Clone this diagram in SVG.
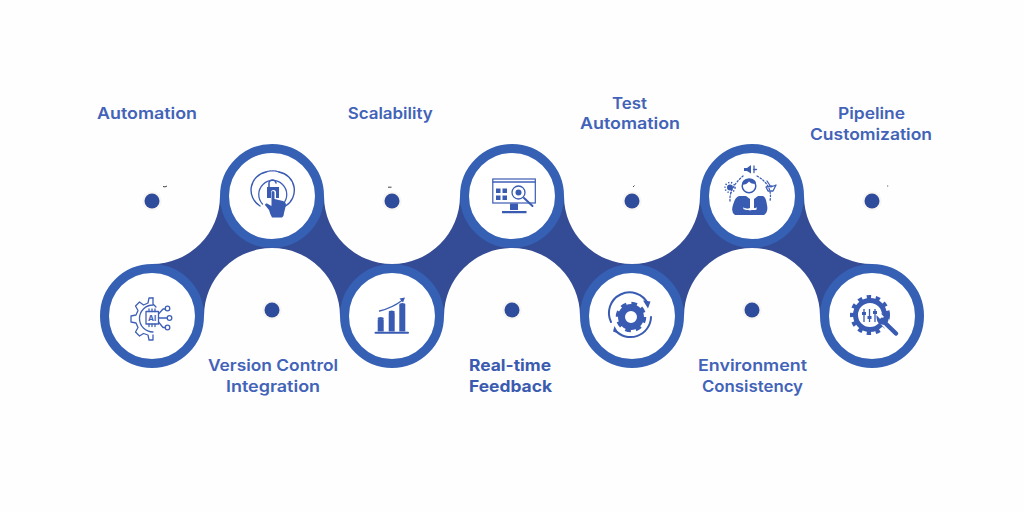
<svg xmlns="http://www.w3.org/2000/svg" width="1024" height="512" viewBox="0 0 1024 512">
<style>
.band{fill:#344b95}
.ring{fill:#fff;stroke:#3560b4;stroke-width:9}
.halo{fill:#f8f5f0}
.dot{fill:#2f4c9c}
.lbl{font-family:"Inter","Liberation Sans",sans-serif;font-size:16px;font-weight:600;fill:#4263b8;text-anchor:middle}
.b{font-weight:700;fill:#3b5bb0}
.s{fill:none;stroke:#3f60b6;stroke-width:1.3;stroke-linecap:round;stroke-linejoin:round}
.t{fill:none;stroke:#3a5bb2;stroke-width:2;stroke-linecap:round;stroke-linejoin:round}
.f{fill:#3a5bb2}
.tick{fill:none;stroke:#444;stroke-width:1}
</style>
<rect width="1024" height="512" fill="#fefefe"/>
<g id="connectors">
<path class="band" d="M220 196A68 68 0 0 1 152 264V316H204A68 68 0 0 1 272 248V196Z"/>
<path class="band" d="M324 196A68 68 0 0 0 392 264V316H340A68 68 0 0 0 272 248V196Z"/>
<path class="band" d="M460 196A68 68 0 0 1 392 264V316H444A68 68 0 0 1 512 248V196Z"/>
<path class="band" d="M564 196A68 68 0 0 0 632 264V316H580A68 68 0 0 0 512 248V196Z"/>
<path class="band" d="M700 196A68 68 0 0 1 632 264V316H684A68 68 0 0 1 752 248V196Z"/>
<path class="band" d="M804 196A68 68 0 0 0 872 264V316H820A68 68 0 0 0 752 248V196Z"/>
</g>
<g id="dots">
<circle class="halo" cx="152" cy="201" r="9.5"/><circle class="dot" cx="152" cy="201" r="7.5"/>
<circle class="halo" cx="392" cy="201" r="9.5"/><circle class="dot" cx="392" cy="201" r="7.5"/>
<circle class="halo" cx="632" cy="201" r="9.5"/><circle class="dot" cx="632" cy="201" r="7.5"/>
<circle class="halo" cx="872" cy="201" r="9.5"/><circle class="dot" cx="872" cy="201" r="7.5"/>
<circle class="halo" cx="272" cy="310" r="9.5"/><circle class="dot" cx="272" cy="310" r="7.5"/>
<circle class="halo" cx="512" cy="310" r="9.5"/><circle class="dot" cx="512" cy="310" r="7.5"/>
<circle class="halo" cx="752" cy="310" r="9.5"/><circle class="dot" cx="752" cy="310" r="7.5"/>
<path class="tick" d="M163 186.500Q165 187.500 167 186M388 187.200H391.500M633 187L634.500 185.500M887.200 186H888.200"/>
</g>
<g id="node-automation">
<circle class="ring" cx="152" cy="316" r="47.500"/>
<path class="s" d="M153 298H149L148 303L143.500 305L139.500 302L135.500 306L138 310.500L136 315L131 316V322L136 323L138 327.500L135.500 332L139.500 336L143.500 333.500L148 335L149 340H153V335"/>
<path class="s" d="M153 298V304L156 307M153 305A13.500 13.500 0 0 0 153 332"/>
<rect class="s" x="146" y="311.500" width="12.500" height="12.500"/>
<path class="s" d="M158.500 314L163 309H165.500M158.500 318H167M158.500 322L163 327.500H165.500M149 311.500V309M152 311.500V309M155 311.500V309M149 324V326.500M152 324V326.500M155 324V326.500"/>
<circle class="s" cx="167.500" cy="308.500" r="2.300"/><circle class="s" cx="169.500" cy="318" r="2.300"/><circle class="s" cx="167.500" cy="327.500" r="2.300"/>
<text x="152.200" y="321" font-family="Inter,'Liberation Sans',sans-serif" font-size="8" font-weight="700" fill="#3f60b6" text-anchor="middle">AI</text>
</g>
<g id="node-version-control">
<circle class="ring" cx="272" cy="196" r="47.500"/>
<path class="s" d="M262.500 204A14 14 0 1 1 283 204"/>
<path class="t" style="stroke-width:1.400" d="M260 206A18.500 18.500 0 0 1 266 172M279 172A18.500 18.500 0 0 1 285.500 206"/>
<path class="s" d="M266 172A18.500 18.500 0 0 1 279 172" style="stroke-dasharray:2 1"/>
<path class="f" d="M267 187H279V198H276V192.500Q276 190 273.500 190Q271 190 271 192.500V198H267Z"/>
<path class="s" style="stroke-width:1.600" d="M269 187V184A3.500 3.500 0 0 1 276 183"/>
<path class="f" d="M271.500 192.500Q271.500 191 273 191Q274.500 191 274.500 192.500V199L283 201Q286 202 286 205L284 213Q284 216 282 217.500H272Q270 214 269 210L265 205Q265 203 267 203.500L271.500 206Z"/>
</g>
<g id="node-scalability">
<circle class="ring" cx="392" cy="316" r="47.500"/>
<path class="t" d="M375.500 332.700H408"/>
<path class="f" d="M377.700 319.500H383.700V331.500H377.700ZM388.700 313H394.700V331.500H388.700ZM399.300 305H405.300V331.500H399.300Z"/>
<ellipse class="f" cx="380.700" cy="318.500" rx="3" ry="1.500"/><ellipse class="f" cx="391.700" cy="312" rx="3" ry="1.500"/><ellipse class="f" cx="402.300" cy="304.500" rx="3" ry="1.500"/>
<path class="s" d="M379.500 311Q392 308 402 300.500"/>
<path class="f" d="M399.500 298.500L405 297.500L403 302.500Z"/>
</g>
<g id="node-real-time">
<circle class="ring" cx="512" cy="196" r="47.500"/>
<rect x="492.800" y="179" width="42.500" height="24" fill="none" stroke="#3a5bb2" stroke-width="1.200"/>
<path class="s" d="M493 182H535"/>
<path class="f" d="M510 203.500H518V210H510ZM502 211H526.500V213.300H502Z"/>
<path class="f" d="M496 188.500H500.500V193H496ZM502.500 188.500H507V193H502.500ZM496 195.500H500.500V200H496ZM502.500 195.500H507V200H502.500Z"/>
<circle cx="518.500" cy="192.500" r="6.500" fill="#fff" stroke="#3a5bb2" stroke-width="1.300"/>
<circle class="f" cx="518.500" cy="192.500" r="3"/>
<path class="t" d="M524 198L532.500 206"/>
</g>
<g id="node-test-automation">
<circle class="ring" cx="632" cy="316" r="47.500"/>
<circle cx="631" cy="317" r="9.500" fill="none" stroke="#3a5bb2" stroke-width="7"/>
<circle cx="631" cy="317" r="13.500" fill="none" stroke="#3a5bb2" stroke-width="3.500" stroke-dasharray="5.600 5"/>
<path class="t" d="M611 322A20.500 20.500 0 0 1 648 304M651 317A20.500 20.500 0 0 1 615 330"/>
<path class="f" d="M643 300.500L650.500 301.500L648 308.500ZM618.500 333.500L613 331.500L614.500 326Z"/>
</g>
<g id="node-environment">
<circle class="ring" cx="752" cy="196" r="47.500"/>
<path class="f" d="M744 168H747L751 165V173.500L747 171H744Z"/>
<path class="s" d="M754 166V172.500M756.500 169.500H753.500"/>
<circle cx="749" cy="186" r="6.800" fill="#fff" stroke="#3a5bb2" stroke-width="1.500"/>
<path class="f" d="M742 185Q742 178.500 749 178.500Q756 178.500 756 184Q751 184 749 181.500Q747 184.500 742 185Z"/>
<path class="f" d="M739 196H746L750 199V208L743 210H757L754 208V199L758 196H763Q766 197 767 205Q768.500 212 764 215H735Q730.500 212 733 205Q735 197 739 196Z"/>
<path d="M743 208L750 210M757 208L750 210" fill="none" stroke="#fff" stroke-width="1"/>
<path class="s" style="stroke-dasharray:1.500 2" d="M730 201Q729 188 743 176M757 176Q773 185 770 201"/>
<circle class="f" cx="730" cy="187.500" r="3"/>
<circle cx="730" cy="187.500" r="5" fill="none" stroke="#3a5bb2" stroke-width="1.500" stroke-dasharray="1.300 1.700"/>
<path class="s" d="M767 181L771 187L776 185L773 191H768L766 187L772 186"/>
</g>
<g id="node-pipeline">
<circle class="ring" cx="872" cy="316" r="47.500"/>
<circle cx="870" cy="315" r="14.500" fill="none" stroke="#3a5bb2" stroke-width="5"/>
<circle cx="870" cy="315" r="18" fill="none" stroke="#3a5bb2" stroke-width="4" stroke-dasharray="4.400 4.600"/>
<path d="M864 309V322M869.500 309V322M875 309V322" fill="none" stroke="#3a5bb2" stroke-width="1.300"/>
<path class="f" d="M862 312H866V315H862ZM867.500 316H871.500V319H867.500ZM873 311H877V314H873Z"/>
<path d="M881 318L897 334" fill="none" stroke="#fff" stroke-width="9" stroke-linecap="round"/>
<path d="M882 320L896 333.500" fill="none" stroke="#3a5bb2" stroke-width="4.500" stroke-linecap="round"/>
<path class="f" d="M876.500 315L880.500 319.500L884 317L881 313.500Q886 313 888 316Q889.500 320 887 323Q884 326 880 324Q876 322 876.500 315Z"/>
</g>
<g id="labels">
<text class="lbl" x="147" y="118.500" textLength="100" lengthAdjust="spacingAndGlyphs">Automation</text>
<text class="lbl" x="390.200" y="118.500" textLength="85" lengthAdjust="spacingAndGlyphs">Scalability</text>
<text class="lbl" x="629.500" y="108.500" textLength="35" lengthAdjust="spacingAndGlyphs">Test</text>
<text class="lbl" x="630" y="128.500" textLength="100" lengthAdjust="spacingAndGlyphs">Automation</text>
<text class="lbl" x="871.500" y="118.500" textLength="67" lengthAdjust="spacingAndGlyphs">Pipeline</text>
<text class="lbl" x="871" y="139.500" textLength="122" lengthAdjust="spacingAndGlyphs">Customization</text>
<text class="lbl" x="273" y="371" textLength="130" lengthAdjust="spacingAndGlyphs">Version Control</text>
<text class="lbl" x="273" y="391.500" textLength="94" lengthAdjust="spacingAndGlyphs">Integration</text>
<text class="lbl b" x="510" y="371" textLength="82" lengthAdjust="spacingAndGlyphs">Real-time</text>
<text class="lbl b" x="510.500" y="391.500" textLength="83" lengthAdjust="spacingAndGlyphs">Feedback</text>
<text class="lbl" x="752.500" y="371" textLength="109" lengthAdjust="spacingAndGlyphs">Environment</text>
<text class="lbl" x="752.500" y="391.500" textLength="101" lengthAdjust="spacingAndGlyphs">Consistency</text>
</g>
</svg>
